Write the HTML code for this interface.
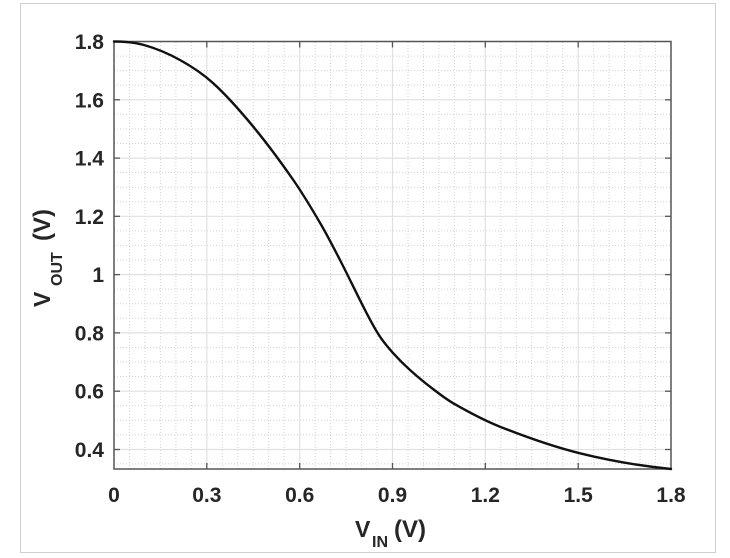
<!DOCTYPE html>
<html><head><meta charset="utf-8"><style>
html,body{margin:0;padding:0;background:#fff;}
svg{display:block;}
text{font-family:"Liberation Sans",Arial,sans-serif;font-weight:bold;fill:#262626;}
</style></head><body>
<svg width="730" height="558" viewBox="0 0 730 558" xmlns="http://www.w3.org/2000/svg">
<rect x="0" y="0" width="730" height="558" fill="#fff"/>
<rect x="20.5" y="3.5" width="695" height="549" fill="#fff" stroke="#cfcfcf" stroke-width="1"/>
<!-- minor grid -->
<g stroke="#d2d2d2" stroke-width="1" stroke-dasharray="1,2">
<line x1="129.5" y1="42" x2="129.5" y2="469"/><line x1="145" y1="42" x2="145" y2="469"/><line x1="160.4" y1="42" x2="160.4" y2="469"/><line x1="175.9" y1="42" x2="175.9" y2="469"/><line x1="191.4" y1="42" x2="191.4" y2="469"/>
<line x1="222.3" y1="42" x2="222.3" y2="469"/><line x1="237.8" y1="42" x2="237.8" y2="469"/><line x1="253.3" y1="42" x2="253.3" y2="469"/><line x1="268.7" y1="42" x2="268.7" y2="469"/><line x1="284.2" y1="42" x2="284.2" y2="469"/>
<line x1="315.2" y1="42" x2="315.2" y2="469"/><line x1="330.6" y1="42" x2="330.6" y2="469"/><line x1="346.1" y1="42" x2="346.1" y2="469"/><line x1="361.6" y1="42" x2="361.6" y2="469"/><line x1="377" y1="42" x2="377" y2="469"/>
<line x1="408" y1="42" x2="408" y2="469"/><line x1="423.5" y1="42" x2="423.5" y2="469"/><line x1="438.9" y1="42" x2="438.9" y2="469"/><line x1="454.4" y1="42" x2="454.4" y2="469"/><line x1="469.9" y1="42" x2="469.9" y2="469"/>
<line x1="500.8" y1="42" x2="500.8" y2="469"/><line x1="516.3" y1="42" x2="516.3" y2="469"/><line x1="531.7" y1="42" x2="531.7" y2="469"/><line x1="547.2" y1="42" x2="547.2" y2="469"/><line x1="562.7" y1="42" x2="562.7" y2="469"/>
<line x1="593.7" y1="42" x2="593.7" y2="469"/><line x1="609.1" y1="42" x2="609.1" y2="469"/><line x1="624.6" y1="42" x2="624.6" y2="469"/><line x1="640.1" y1="42" x2="640.1" y2="469"/><line x1="655.5" y1="42" x2="655.5" y2="469"/>
<line x1="114" y1="56.1" x2="671" y2="56.1"/><line x1="114" y1="70.6" x2="671" y2="70.6"/><line x1="114" y1="85.2" x2="671" y2="85.2"/>
<line x1="114" y1="114.3" x2="671" y2="114.3"/><line x1="114" y1="128.9" x2="671" y2="128.9"/><line x1="114" y1="143.5" x2="671" y2="143.5"/>
<line x1="114" y1="172.6" x2="671" y2="172.6"/><line x1="114" y1="187.2" x2="671" y2="187.2"/><line x1="114" y1="201.7" x2="671" y2="201.7"/>
<line x1="114" y1="230.9" x2="671" y2="230.9"/><line x1="114" y1="245.4" x2="671" y2="245.4"/><line x1="114" y1="260" x2="671" y2="260"/>
<line x1="114" y1="289.1" x2="671" y2="289.1"/><line x1="114" y1="303.7" x2="671" y2="303.7"/><line x1="114" y1="318.3" x2="671" y2="318.3"/>
<line x1="114" y1="347.4" x2="671" y2="347.4"/><line x1="114" y1="362" x2="671" y2="362"/><line x1="114" y1="376.5" x2="671" y2="376.5"/>
<line x1="114" y1="405.7" x2="671" y2="405.7"/><line x1="114" y1="420.2" x2="671" y2="420.2"/><line x1="114" y1="434.8" x2="671" y2="434.8"/>
<line x1="114" y1="463.9" x2="671" y2="463.9"/>
</g>
<!-- major grid -->
<g stroke="#e1e1e1" stroke-width="1.2">
<line x1="206.8" y1="42" x2="206.8" y2="469"/><line x1="299.7" y1="42" x2="299.7" y2="469"/><line x1="392.5" y1="42" x2="392.5" y2="469"/><line x1="485.3" y1="42" x2="485.3" y2="469"/><line x1="578.2" y1="42" x2="578.2" y2="469"/>
<line x1="114" y1="99.8" x2="671" y2="99.8"/><line x1="114" y1="158.1" x2="671" y2="158.1"/><line x1="114" y1="216.3" x2="671" y2="216.3"/><line x1="114" y1="274.6" x2="671" y2="274.6"/><line x1="114" y1="332.9" x2="671" y2="332.9"/><line x1="114" y1="391.2" x2="671" y2="391.2"/><line x1="114" y1="449.5" x2="671" y2="449.5"/>
</g>
<!-- ticks -->
<g stroke="#555" stroke-width="1.3">
<line x1="206.8" y1="469" x2="206.8" y2="463"/><line x1="299.7" y1="469" x2="299.7" y2="463"/><line x1="392.5" y1="469" x2="392.5" y2="463"/><line x1="485.3" y1="469" x2="485.3" y2="463"/><line x1="578.2" y1="469" x2="578.2" y2="463"/>
<line x1="206.8" y1="41.5" x2="206.8" y2="47.5"/><line x1="299.7" y1="41.5" x2="299.7" y2="47.5"/><line x1="392.5" y1="41.5" x2="392.5" y2="47.5"/><line x1="485.3" y1="41.5" x2="485.3" y2="47.5"/><line x1="578.2" y1="41.5" x2="578.2" y2="47.5"/>
<line x1="114" y1="99.8" x2="120" y2="99.8"/><line x1="114" y1="158.1" x2="120" y2="158.1"/><line x1="114" y1="216.3" x2="120" y2="216.3"/><line x1="114" y1="274.6" x2="120" y2="274.6"/><line x1="114" y1="332.9" x2="120" y2="332.9"/><line x1="114" y1="391.2" x2="120" y2="391.2"/><line x1="114" y1="449.5" x2="120" y2="449.5"/>
<line x1="671" y1="99.8" x2="665" y2="99.8"/><line x1="671" y1="158.1" x2="665" y2="158.1"/><line x1="671" y1="216.3" x2="665" y2="216.3"/><line x1="671" y1="274.6" x2="665" y2="274.6"/><line x1="671" y1="332.9" x2="665" y2="332.9"/><line x1="671" y1="391.2" x2="665" y2="391.2"/><line x1="671" y1="449.5" x2="665" y2="449.5"/>
</g>
<rect x="114" y="41.5" width="557" height="427.5" fill="none" stroke="#555" stroke-width="1.5"/>
<!-- curve -->
<path fill="none" stroke="#111" stroke-width="2.4" stroke-linejoin="round" stroke-linecap="round"
d="M114,41.5 C124,41.5 134,42.2 144,45
C156,48.36 168,53.36 180,60
C191.1,66.14 202.2,73.2 213.3,83.3
C226.63,95.43 239.97,110.58 253.3,126.7
C266.63,142.82 279.97,160.75 293.3,180
C302.43,193.18 311.57,208.36 320.7,224
C327.13,235.01 333.57,247.52 340,260
C348.9,277.27 357.8,296.23 366.7,313.3
C371.13,321.8 375.57,330.04 380,336.7
C384.43,343.36 388.87,348.38 393.3,353.3
C398.87,359.48 404.43,364.93 410,370
C416.67,376.07 423.33,381.57 430,386.7
C437.77,392.67 445.53,398.86 453.3,403.3
C468.87,412.19 484.43,420.55 500,426.7
C526.67,437.23 553.33,446.71 580,453.3
C610.33,460.79 640.67,465.97 671,469"/>
<!-- y tick labels -->
<g font-size="21" text-anchor="end">
<text x="104" y="49">1.8</text>
<text x="104" y="107.3">1.6</text>
<text x="104" y="165.6">1.4</text>
<text x="104" y="223.8">1.2</text>
<text x="104" y="282.1">1</text>
<text x="104" y="340.4">0.8</text>
<text x="104" y="398.7">0.6</text>
<text x="104" y="457">0.4</text>
</g>
<!-- x tick labels -->
<g font-size="21" text-anchor="middle">
<text x="114" y="502">0</text>
<text x="206.8" y="502">0.3</text>
<text x="299.7" y="502">0.6</text>
<text x="392.5" y="502">0.9</text>
<text x="485.3" y="502">1.2</text>
<text x="578.2" y="502">1.5</text>
<text x="671" y="502">1.8</text>
</g>
<!-- x label -->
<text y="537"><tspan x="355" font-size="23">V</tspan><tspan x="372" y="547" font-size="16">IN</tspan><tspan x="394" y="537" font-size="24">(V)</tspan></text>
<!-- y label -->
<g transform="translate(50,307) rotate(-90)">
<text y="0"><tspan x="0" font-size="23">V</tspan><tspan x="21" y="12" font-size="16">OUT</tspan><tspan x="66" y="0" font-size="24">(V)</tspan></text>
</g>
</svg>
</body></html>
